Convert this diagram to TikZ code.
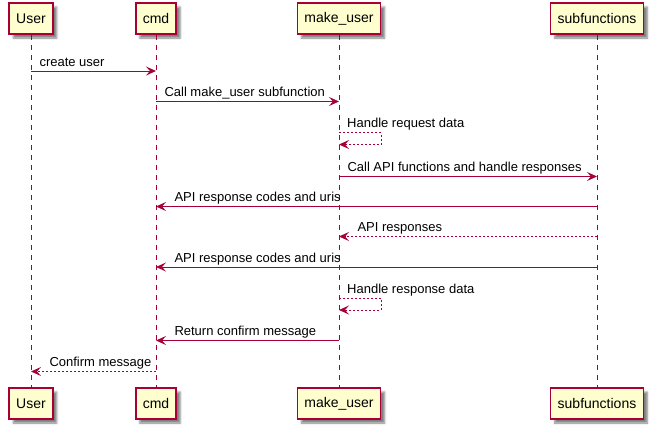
\documentclass[tikz,border=0pt]{standalone}
\usepackage{fontspec}
\setmainfont{Liberation Sans}
\usetikzlibrary{positioning,arrows.meta,calc,shadows.blur}
\definecolor{umlred}{HTML}{A80036}
\definecolor{umlfill}{HTML}{FEFECE}

\begin{document}
\begin{tikzpicture}[x=1pt,y=-1pt,
   actor/.style={draw=umlred,fill=umlfill,line width=1.5pt,minimum height=31pt,
      inner xsep=7pt,font=\fontsize{14}{16}\selectfont,
      blur shadow={shadow xshift=4pt,shadow yshift=-4pt,shadow blur radius=2pt,shadow opacity=50}},
   life/.style={draw=umlred,line width=1pt,dash pattern=on 5pt off 5pt},
   msg/.style={draw=umlred,line width=1pt,-{Stealth[length=10pt,width=9pt,inset=4pt]}},
   reply/.style={msg,dash pattern=on 2pt off 2pt},
   lbl/.style={anchor=base west,inner sep=0pt,font=\fontsize{13}{15}\selectfont,yshift=5pt}]
   \useasboundingbox (0,0) rectangle (653,429);
   \node[actor] (user)   at (31,18.5)  {User};
   \node[actor] (cmd)    at (156,18.5) {cmd};
   \node[actor] (mkuser) at (339,18.5) {make\_user};
   \node[actor] (subf)   at (597,18.5) {subfunctions};
   \node[actor] (user2)   at (31,403.5)  {User};
   \node[actor] (cmd2)    at (156,403.5) {cmd};
   \node[actor] (mkuser2) at (339,403.5) {make\_user};
   \node[actor] (subf2)   at (597,403.5) {subfunctions};
   % lifelines
   \foreach \a in {user,cmd,mkuser,subf}
      \path[life] (\a.south) -- (\a2.north);
   \path[msg] (user |- 0,71) -- (cmd |- 0,71)
      node[lbl,pos=0,xshift=8pt] {create user};
   \path[msg] (cmd |- 0,101.5) -- (mkuser |- 0,101.5)
      node[lbl,pos=0,xshift=8pt] {Call make\_user subfunction};
   \path[reply] (mkuser |- 0,132.5) -- ++(42,0) -- ++(0,12) -- (mkuser |- 0,144.5);
   \node[lbl,xshift=8pt] at (mkuser |- 0,132.5) {Handle request data};
   \path[msg] (mkuser |- 0,176.5) -- (subf |- 0,176.5)
      node[lbl,pos=0,xshift=8pt] {Call API functions and handle responses};
   \path[msg] (subf |- 0,206.5) -- (cmd |- 0,206.5)
      node[lbl,pos=1,xshift=18pt] {API response codes and uris};
   \path[reply] (subf |- 0,236.5) -- (mkuser |- 0,236.5)
      node[lbl,pos=1,xshift=18pt] {API responses};
   \path[msg] (subf |- 0,267) -- (cmd |- 0,267)
      node[lbl,pos=1,xshift=18pt] {API response codes and uris};
   \path[reply] (mkuser |- 0,298) -- ++(42,0) -- ++(0,12) -- (mkuser |- 0,310);
   \node[lbl,xshift=8pt] at (mkuser |- 0,298) {Handle response data};
   \path[msg] (mkuser |- 0,340.5) -- (cmd |- 0,340.5)
      node[lbl,pos=1,xshift=18pt] {Return confirm message};
   \path[reply] (cmd |- 0,371.5) -- (user |- 0,371.5)
      node[lbl,pos=1,xshift=18pt] {Confirm message};
\end{tikzpicture}
\end{document}
